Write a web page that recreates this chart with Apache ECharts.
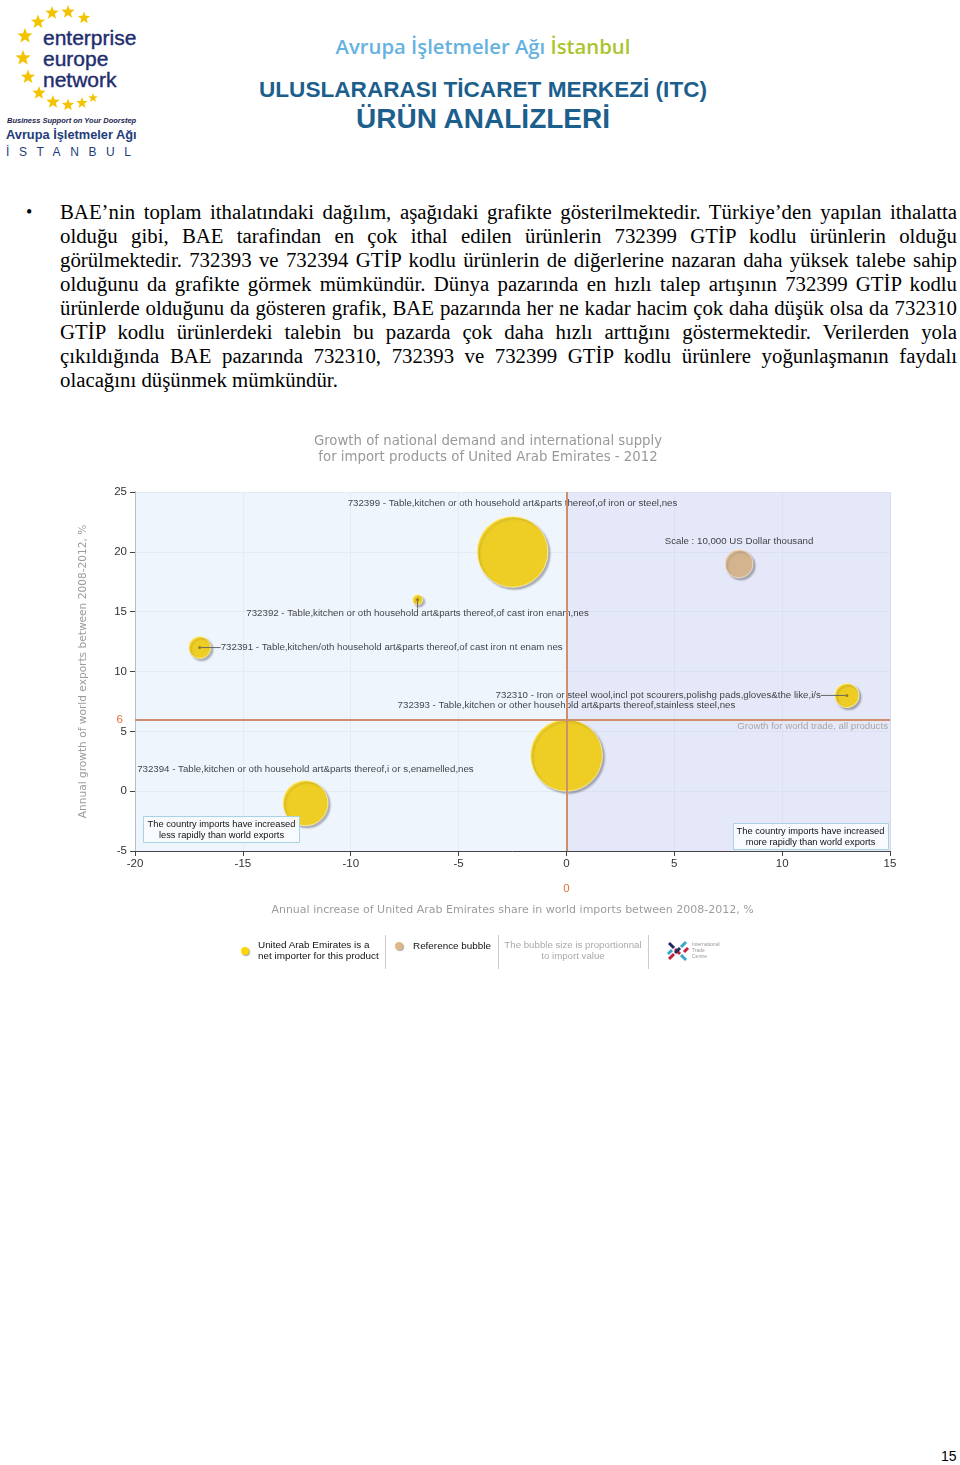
<!DOCTYPE html>
<html><head><meta charset="utf-8">
<script src="https://cdn.jsdelivr.net/npm/echarts@6/dist/echarts.min.js"></script>
<style>
body{margin:0;background:#fff;width:960px;height:1465px;position:relative;overflow:hidden;font-family:'Liberation Sans',Arial,sans-serif}
.abs{position:absolute;white-space:nowrap}
.bl{position:absolute;left:60px;width:897px;height:24px;line-height:24px;font-family:'Liberation Serif','Times New Roman',serif;font-size:20.8px;color:#000;text-align:justify;text-align-last:justify;white-space:nowrap}
.bl.last{text-align-last:left}
</style></head><body>
<svg id="stars" class="abs" style="left:0;top:0" width="150" height="115"></svg>
<div class="abs" style="left:43px;top:27px;font-size:21px;line-height:21px;color:#1f2d6e;-webkit-text-stroke:0.4px #1f2d6e">enterprise<br>europe<br>network</div>
<div class="abs" style="left:7px;top:116px;font-size:7.5px;font-style:italic;font-weight:bold;color:#1a2550">Business Support on Your Doorstep</div>
<div class="abs" style="left:6px;top:127px;font-size:12.8px;font-weight:bold;color:#1f3c7a">Avrupa İşletmeler Ağı</div>
<div class="abs" style="left:6px;top:145px;font-size:12px;color:#1f3c7a;letter-spacing:9.6px">İSTANBUL</div>

<div class="abs" style="left:0;width:966px;text-align:center;top:32px;font-family:'Open Sans';font-weight:600;font-size:20.3px;color:#66b2df">Avrupa İşletmeler Ağı <span style="color:#a9c52c">İstanbul</span></div>
<div class="abs" style="left:0;width:966px;text-align:center;top:77px;font-weight:bold;font-size:22.6px;color:#1c5f8d">ULUSLARARASI TİCARET MERKEZİ (ITC)</div>
<div class="abs" style="left:0;width:966px;text-align:center;top:103px;font-weight:bold;font-size:28px;color:#1c5f8d">ÜRÜN ANALİZLERİ</div>

<div class="abs" style="left:26px;top:200px;font-size:18px;line-height:24px;font-family:'Liberation Serif',serif">•</div>
<div id="body"></div>

<div id="chart" class="abs" style="left:0;top:420px;width:960px;height:560px"></div>

<div id="legend"></div>
<div class="abs" style="left:941px;top:1448px;font-size:14px;color:#000">15</div>
<script>
// ---------- data ----------
const productCodes = ['732399','732392','732391','732310','732393','732394'];
const productLabels = [
  '732399 - Table,kitchen or oth household art&parts thereof,of iron or steel,nes',
  '732392 - Table,kitchen or oth household art&parts thereof,of cast iron enam,nes',
  '732391 - Table,kitchen/oth household art&parts thereof,of cast iron nt enam nes',
  '732310 - Iron or steel wool,incl pot scourers,polishg pads,gloves&the like,i/s',
  '732393 - Table,kitchen or other household art&parts thereof,stainless steel,nes',
  '732394 - Table,kitchen or oth household art&parts thereof,i or s,enamelled,nes'
];
const importShareGrowth = [-2.5, -6.9, -17, 13, 0, -12.1];   // x, %
const worldExportGrowth = [20, 16, 12, 8, 3, -1];            // y, %
const importValue = [64000, 1300, 6200, 7400, 66000, 26000]; // US$ thousand
const refX = [8];
const refY = [19];
const refValue = [10000];
const worldTradeGrowth = 6;
const xTickValues = [-20, -15, -10, -5, 0, 5, 10, 15];
const yTickValues = [-5, 0, 5, 10, 15, 20, 25];

const bodyLines = [
 'BAE’nin toplam ithalatındaki dağılım, aşağıdaki grafikte gösterilmektedir. Türkiye’den yapılan ithalatta',
 'olduğu gibi, BAE tarafindan en çok ithal edilen ürünlerin 732399 GTİP kodlu ürünlerin olduğu',
 'görülmektedir. 732393 ve 732394 GTİP kodlu ürünlerin de diğerlerine nazaran daha yüksek talebe sahip',
 'olduğunu da grafikte görmek mümkündür. Dünya pazarında en hızlı talep artışının 732399 GTİP kodlu',
 'ürünlerde olduğunu da gösteren grafik, BAE pazarında her ne kadar hacim çok daha düşük olsa da 732310',
 'GTİP kodlu ürünlerdeki talebin bu pazarda çok  daha hızlı arttığını göstermektedir. Verilerden yola',
 'çıkıldığında BAE pazarında 732310, 732393 ve 732399 GTİP kodlu ürünlere yoğunlaşmanın faydalı',
 'olacağını düşünmek mümkündür.'
];

// ---------- layout / style (not data) ----------
const refDiameter = 28;
const labelPlacement = [
  {align:'center', dx:0,   dy:-49, line:false},
  {align:'center', dx:0,   dy:14,  line:true},
  {align:'left',   dx:21,  dy:0,   line:true},
  {align:'right',  dx:-26, dy:0,   line:true},
  {align:'center', dx:0,   dy:-50, line:false},
  {align:'center', dx:0,   dy:-34, line:false}
];
const LABEL_FONT = 'Liberation Sans';
const LABEL_SIZE = 9.7;

// body text
const body = document.getElementById('body');
bodyLines.forEach((t,i)=>{
  const d=document.createElement('div');
  d.className='bl'+(i===bodyLines.length-1?' last':'');
  d.style.top=(200+i*24)+'px';
  d.textContent=t; body.appendChild(d);
});

// logo stars
(function(){
  const pts=[[52,13,7],[68,12,7],[84,18,6.5],[38,22,7.5],[25,36,8],[23,58,8],[28,77,7.5],[39,93,7],[53,102,7],[68,105,6.5],[82,103,6],[93,98,5]];
  let s='';
  pts.forEach(([cx,cy,r])=>{
    let p=[];
    for(let k=0;k<10;k++){const a=-Math.PI/2+k*Math.PI/5;const rr=k%2?r*0.42:r;p.push((cx+rr*Math.cos(a)).toFixed(1)+','+(cy+rr*Math.sin(a)).toFixed(1));}
    s+='<polygon points="'+p.join(' ')+'" fill="#f4c300"/>';
  });
  document.getElementById('stars').innerHTML=s;
})();

// legend row
document.getElementById('legend').innerHTML = `
<div class="abs" style="left:241px;top:947px;width:8px;height:8px;border-radius:50%;background:#ffd600;box-shadow:1px 1px 1px rgba(0,0,0,.35)"></div>
<div class="abs" style="left:258px;top:939px;font-size:9.9px;line-height:11px;color:#111">United Arab Emirates is a<br>net importer for this product</div>
<div class="abs" style="left:385px;top:935px;width:1px;height:34px;background:#ccc"></div>
<div class="abs" style="left:395px;top:942px;width:8px;height:8px;border-radius:50%;background:#dfb887;box-shadow:1px 1px 1px rgba(0,0,0,.35)"></div>
<div class="abs" style="left:413px;top:940px;font-size:9.9px;line-height:11px;color:#111">Reference bubble</div>
<div class="abs" style="left:498px;top:935px;width:1px;height:34px;background:#ccc"></div>
<div class="abs" style="left:498px;width:150px;text-align:center;top:939px;font-size:9.7px;line-height:11px;color:#aaa">The bubble size is proportionnal<br>to import value</div>
<div class="abs" style="left:648px;top:935px;width:1px;height:34px;background:#ccc"></div>
<svg class="abs" style="left:666px;top:939px" width="26" height="24">
 <g stroke-width="3" stroke-linecap="butt">
  <line x1="3" y1="4" x2="8" y2="9" stroke="#1d2b5e"/><line x1="9" y1="10" x2="14" y2="15" stroke="#c8203c"/><line x1="15" y1="16" x2="20" y2="21" stroke="#3aa6c8"/>
  <line x1="20" y1="3" x2="15" y2="8" stroke="#3aa6c8"/><line x1="14" y1="9" x2="9" y2="14" stroke="#1d2b5e"/><line x1="8" y1="15" x2="3" y2="20" stroke="#c8203c"/>
  <line x1="22" y1="9" x2="18" y2="13" stroke="#c8203c"/><line x1="6" y1="11" x2="2" y2="15" stroke="#3aa6c8"/>
 </g></svg>
<div class="abs" style="left:692px;top:941px;font-size:5px;line-height:6px;color:#999">International<br>Trade<br>Centre</div>
`;

// ---------- chart ----------
const chart = echarts.init(document.getElementById('chart'), null, {renderer:'canvas'});
const sizeOf = v => refDiameter*Math.sqrt(v/refValue[0]);
const bubbleData = productCodes.map((c,i)=>({name:c, value:[importShareGrowth[i], worldExportGrowth[i], importValue[i]]}));
const anchorData = productCodes.map((c,i)=>({
  name:c, value:[importShareGrowth[i], worldExportGrowth[i]],
  itemStyle:{color: labelPlacement[i].line ? '#7a6520' : 'rgba(0,0,0,0)'},
  label:{align:labelPlacement[i].align},
  labelLine:{show:labelPlacement[i].line}
}));

chart.setOption({
  animation:false,
  title:{
    text:'Growth of national demand and international supply\nfor import products of United Arab Emirates - 2012',
    left:483, top:9, textAlign:'center',
    textStyle:{fontFamily:'DejaVu Sans', fontWeight:'normal', fontSize:13.3, color:'#999', lineHeight:16}
  },
  grid:{left:135, right:70, top:72, bottom:129},
  xAxis:{
    type:'value', min:xTickValues[0], max:xTickValues[xTickValues.length-1], interval:5,
    name:'Annual increase of United Arab Emirates share in world imports between 2008-2012, %',
    nameLocation:'middle', nameGap:54,
    nameTextStyle:{fontFamily:'DejaVu Sans', fontSize:11, color:'#9c9c9c'},
    axisLine:{show:true, onZero:false, lineStyle:{color:'#444', width:1}},
    axisTick:{show:true, length:5, lineStyle:{color:'#444'}},
    axisLabel:{fontFamily:'Liberation Sans', fontSize:11.5, color:'#333', margin:7},
    splitLine:{show:true, lineStyle:{color:'#d6dde8'}}
  },
  yAxis:{
    type:'value', min:yTickValues[0], max:yTickValues[yTickValues.length-1], interval:5,
    name:'Annual growth of world exports between 2008-2012, %',
    nameLocation:'middle', nameGap:46,
    nameTextStyle:{fontFamily:'DejaVu Sans', fontSize:10.6, color:'#9c9c9c'},
    axisLine:{show:true, onZero:false, lineStyle:{color:'#444', width:1}},
    axisTick:{show:true, length:5, lineStyle:{color:'#444'}},
    axisLabel:{fontFamily:'Liberation Sans', fontSize:11.5, color:'#333', margin:8},
    splitLine:{show:true, lineStyle:{color:'#d6dde8'}}
  },
  series:[
    {
      type:'scatter', name:'quadrants', data:[], z:1, silent:true,
      markArea:{silent:true, data:[
        [{xAxis:xTickValues[0], yAxis:yTickValues[0], itemStyle:{color:'rgba(232,241,252,0.7)'}}, {xAxis:0, yAxis:yTickValues[yTickValues.length-1]}],
        [{xAxis:0, yAxis:yTickValues[0], itemStyle:{color:'rgba(220,224,245,0.75)'}}, {xAxis:xTickValues[xTickValues.length-1], yAxis:yTickValues[yTickValues.length-1]}]
      ]},
      markLine:{silent:true, symbol:'none', animation:false,
        lineStyle:{color:'#cf8f6e', width:2, type:'solid'},
        data:[
          {yAxis:worldTradeGrowth, label:{position:'start', formatter:String(worldTradeGrowth), color:'#e0703a', fontSize:11.5, fontFamily:'Liberation Sans', distance:12}},
          {yAxis:worldTradeGrowth, lineStyle:{color:'rgba(0,0,0,0)', width:0}, label:{position:'insideEndBottom', formatter:'Growth for world trade, all products', color:'#a6a6a6', fontSize:LABEL_SIZE, fontFamily:LABEL_FONT, distance:2}},
          {xAxis:0, label:{position:'start', formatter:'0', color:'#e0703a', fontSize:11.5, fontFamily:'Liberation Sans', distance:32}}
        ]}
    },
    {
      type:'scatter', name:'products', z:2, data:bubbleData,
      symbolSize:(v)=>sizeOf(v[2]),
      itemStyle:{color:'#ffd600', borderColor:'#fff3b0', borderWidth:1, shadowBlur:2, shadowOffsetX:2, shadowOffsetY:2, shadowColor:'rgba(0,0,0,0.35)'},
      label:{show:false}
    },
    {
      type:'scatter', name:'reference', z:2,
      data:refX.map((x,i)=>[x, refY[i], refValue[i]]),
      symbolSize:(v)=>sizeOf(v[2]),
      itemStyle:{color:'#dfb887', borderColor:'#f6e6cc', borderWidth:1, shadowBlur:2, shadowOffsetX:2, shadowOffsetY:2, shadowColor:'rgba(0,0,0,0.35)'},
      label:{show:true, position:'top', distance:3, formatter:'Scale : 10,000 US Dollar thousand', color:'#111', fontSize:LABEL_SIZE, fontFamily:LABEL_FONT}
    },
    {
      type:'scatter', name:'anchors', z:3, data:anchorData, symbolSize:3,
      label:{show:true, position:'inside', formatter:(p)=>productLabels[p.dataIndex], color:'#111', fontSize:LABEL_SIZE, fontFamily:LABEL_FONT},
      labelLine:{show:true, lineStyle:{color:'#666', width:1}},
      labelLayout:(p)=>({dx:labelPlacement[p.dataIndex].dx, dy:labelPlacement[p.dataIndex].dy})
    }
  ],
  graphic:[
    {type:'group', left:143, top:396, z:100, children:[
      {type:'rect', z:100, shape:{x:0,y:0,width:156,height:26}, style:{fill:'rgba(250,252,255,0.9)', stroke:'#a9d2e2', lineWidth:1}},
      {type:'text', z:101, style:{text:'The country imports have increased\nless rapidly than world exports', x:78, y:13, align:'center', verticalAlign:'middle', fontSize:9.3, lineHeight:11, fontFamily:LABEL_FONT, fill:'#111'}}
    ]},
    {type:'group', left:733, top:403, z:100, children:[
      {type:'rect', z:100, shape:{x:0,y:0,width:155,height:26}, style:{fill:'rgba(250,252,255,0.9)', stroke:'#a9d2e2', lineWidth:1}},
      {type:'text', z:101, style:{text:'The country imports have increased\nmore rapidly than world exports', x:77, y:13, align:'center', verticalAlign:'middle', fontSize:9.3, lineHeight:11, fontFamily:LABEL_FONT, fill:'#111'}}
    ]}
  ]
});
</script>
</body></html>
